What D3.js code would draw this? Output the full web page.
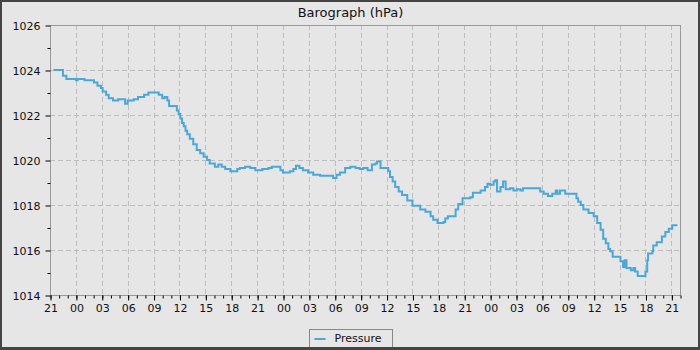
<!DOCTYPE html>
<html>
<head>
<meta charset="utf-8">
<script src="https://cdn.jsdelivr.net/npm/d3@7"></script>
<style>
  body { margin: 0; background: #fff; }
  text { font-family: "DejaVu Sans", sans-serif; fill: #111; }
</style>
</head>
<body>
<div class="chart"></div>
<script>
// hours since 21:00 on the first day, and the reading at that time (hPa)
const hours = [
  0.4, 1.5, 1.9, 3.0, 3.2, 4.0, 5.1, 5.5, 5.9, 6.1, 6.5, 6.8, 7.3, 7.9, 8.7, 9.0, 9.7, 10.2, 10.9, 11.4,
  12.6, 13.0, 13.3, 13.6, 13.8, 14.7, 14.9, 15.1, 15.3, 15.5, 15.7, 15.9, 16.2, 16.6, 17.0, 17.4, 17.8, 18.2, 18.5,
  19.1, 19.5, 19.9, 20.3, 20.9, 21.7, 22.0, 22.6, 23.2, 23.8, 24.6, 25.3, 25.7, 26.7, 27.0, 27.8, 28.2, 28.5, 28.9,
  29.3, 29.9, 30.5, 31.3, 32.8, 33.2, 33.6, 34.2, 34.8, 35.4, 35.9, 36.3,
  36.8, 37.3, 37.7, 37.9, 38.3, 39.2, 39.4, 39.7, 40.0, 40.4, 40.8, 41.4, 42.0, 42.9, 43.5, 44.1, 44.4, 44.9,
  45.6, 45.8, 46.1, 47.0, 47.3, 47.8, 48.7, 49.0, 49.9, 50.4, 50.7, 51.0, 51.4, 51.6, 51.8, 52.2, 52.5, 52.8,
  53.3, 53.7, 54.1, 54.5,
  54.8, 56.8, 57.2, 57.7, 58.2, 58.6, 58.8, 59.1, 59.7, 61.0, 61.2, 61.5, 61.8, 62.4, 63.0, 63.4, 63.8, 64.1,
  64.4, 64.7, 64.9, 65.2, 66.1, 66.4, 66.6, 66.8, 67.3, 67.6, 67.8, 68.1, 69.0, 69.2, 69.3, 69.8, 69.9, 70.3,
  70.9, 71.3, 71.7, 72.1, 72.7
];
const pressure = [
  1024.0, 1023.75, 1023.6, 1023.55, 1023.6, 1023.55, 1023.45, 1023.3, 1023.2, 1023.05, 1022.9, 1022.75, 1022.65, 1022.7, 1022.5, 1022.65, 1022.7, 1022.8, 1022.9, 1023.0,
  1022.9, 1022.75, 1022.8, 1022.65, 1022.4, 1022.2, 1022.05, 1021.85, 1021.65, 1021.5, 1021.3, 1021.15, 1020.95, 1020.7, 1020.45, 1020.3, 1020.15, 1020.0, 1019.85,
  1019.7, 1019.8, 1019.7, 1019.6, 1019.5, 1019.6, 1019.65, 1019.7, 1019.65, 1019.55, 1019.6, 1019.65, 1019.7, 1019.55, 1019.45, 1019.5, 1019.6, 1019.75, 1019.65,
  1019.55, 1019.45, 1019.35, 1019.3, 1019.2, 1019.35, 1019.45, 1019.65, 1019.7, 1019.65, 1019.6, 1019.65,
  1019.55, 1019.8, 1019.85, 1019.93, 1019.65, 1019.5, 1019.25, 1019.05, 1018.8, 1018.6, 1018.45, 1018.2, 1017.97, 1017.8, 1017.7, 1017.5, 1017.35, 1017.2,
  1017.25, 1017.4, 1017.5, 1017.8, 1018.05, 1018.3, 1018.35, 1018.55, 1018.65, 1018.8, 1018.95, 1018.9, 1019.05, 1019.1, 1018.6, 1018.8, 1019.05, 1018.7,
  1018.75, 1018.65, 1018.7, 1018.65,
  1018.75, 1018.6, 1018.5, 1018.4, 1018.5, 1018.65, 1018.5, 1018.65, 1018.5, 1018.3, 1018.15, 1018.0, 1017.8, 1017.65, 1017.5, 1017.2, 1016.9, 1016.5,
  1016.3, 1016.05, 1015.95, 1015.7, 1015.5, 1015.25, 1015.55, 1015.2, 1015.1, 1015.2, 1015.05, 1014.85, 1015.05, 1015.55, 1015.85, 1015.95, 1016.2, 1016.35,
  1016.6, 1016.8, 1016.95, 1017.1, 1017.1
];
const yMajor = [1014, 1016, 1018, 1020, 1022, 1024, 1026];
const yMinor = [1015, 1017, 1019, 1021, 1023, 1025];
const title = "Barograph (hPa)";
const seriesName = "Pressure";

const width = 700, height = 350;
const margin = {top: 25, right: 20, bottom: 55, left: 50};
const start = new Date(2024, 0, 1, 21, 0);
const end = d3.timeHour.offset(start, 73);

const svg = d3.select(".chart").append("svg")
  .attr("width", width)
  .attr("height", height);

// background + outer frame
svg.append("rect")
  .attr("x", 1).attr("y", 1)
  .attr("width", width - 2).attr("height", height - 2.5)
  .attr("fill", "#e6e6e6")
  .attr("stroke", "#444")
  .attr("stroke-width", 2);

const x = d3.scaleTime()
  .domain([start, end])
  .range([margin.left, width - margin.right]);
const y = d3.scaleLinear()
  .domain([1014, 1026])
  .range([height - margin.bottom, margin.top]);

const data = hours.map((h, i) => ({
  t: new Date(start.getTime() + h * 3600e3),
  p: pressure[i]
}));

const majorTimes = d3.timeHour.every(3).range(start, d3.timeHour.offset(end, 1));
const minorTimes = d3.timeHour.every(1).range(start, d3.timeHour.offset(end, 1));

// grid
const grid = svg.append("g")
  .attr("stroke", "#bdbdbd")
  .attr("stroke-dasharray", "5,3");
grid.selectAll(".vg")
  .data(majorTimes.filter(d => x(d) > margin.left + 1))
  .join("line")
  .attr("x1", d => Math.round(x(d)) + 0.5).attr("x2", d => Math.round(x(d)) + 0.5)
  .attr("y1", margin.top).attr("y2", height - margin.bottom);
grid.selectAll(".hg")
  .data(yMajor.slice(1, -1))
  .join("line")
  .attr("y1", d => Math.round(y(d)) + 0.5).attr("y2", d => Math.round(y(d)) + 0.5)
  .attr("x1", margin.left).attr("x2", width - margin.right);

// frame of the plot area
svg.append("rect")
  .attr("x", margin.left + 0.5).attr("y", margin.top + 0.5)
  .attr("width", width - margin.left - margin.right)
  .attr("height", height - margin.top - margin.bottom)
  .attr("fill", "none")
  .attr("stroke", "#999");

// x axis: hourly minor ticks, labelled every 3 hours
const xMinor = svg.append("g")
  .attr("transform", `translate(0.5,${height - margin.bottom + 0.5})`)
  .call(d3.axisBottom(x).tickValues(minorTimes).tickSize(3).tickFormat(""));
xMinor.select(".domain").remove();
xMinor.selectAll("line").attr("stroke", "#000");

const xAxis = svg.append("g")
  .attr("transform", `translate(0.5,${height - margin.bottom + 0.5})`)
  .call(d3.axisBottom(x).tickValues(majorTimes).tickSize(5).tickPadding(4)
    .tickFormat(d3.timeFormat("%H")));
xAxis.select(".domain").remove();
xAxis.selectAll("line").attr("stroke", "#000");
xAxis.selectAll("text").style("font-size", "11px").style("font-family", "DejaVu Sans").attr("fill", "#111");

// y axis
const yMin = svg.append("g")
  .attr("transform", `translate(${margin.left + 0.5},0.5)`)
  .call(d3.axisLeft(y).tickValues(yMinor).tickSize(3).tickFormat(""));
yMin.select(".domain").remove();
yMin.selectAll("line").attr("stroke", "#000");

const yAxis = svg.append("g")
  .attr("transform", `translate(${margin.left + 0.5},0.5)`)
  .call(d3.axisLeft(y).tickValues(yMajor).tickSize(5).tickPadding(5).tickFormat(d3.format("d")));
yAxis.select(".domain").remove();
yAxis.selectAll("line").attr("stroke", "#000");
yAxis.selectAll("text").style("font-size", "11px").style("font-family", "DejaVu Sans").attr("fill", "#111");

// the series, drawn as steps
const line = d3.line()
  .x(d => x(d.t))
  .y(d => y(d.p))
  .curve(d3.curveStepAfter);

svg.append("path")
  .datum(data)
  .attr("fill", "none")
  .attr("stroke", "#4aa8d8")
  .attr("stroke-width", 2)
  .attr("d", line);

// title
svg.append("text")
  .attr("x", width / 2 + 0.5)
  .attr("y", 17)
  .attr("text-anchor", "middle")
  .style("font-size", "13px")
  .text(title);

// legend
const legend = svg.append("g").attr("transform", "translate(309.5,329.5)");
legend.append("rect")
  .attr("width", 83).attr("height", 20)
  .attr("fill", "#e6e6e6")
  .attr("stroke", "#888");
legend.append("line")
  .attr("x1", 5).attr("x2", 16)
  .attr("y1", 9.5).attr("y2", 9.5)
  .attr("stroke", "#4aa8d8")
  .attr("stroke-width", 2);
legend.append("text")
  .attr("x", 25).attr("y", 12)
  .style("font-size", "11px")
  .text(seriesName);

// redraw bottom frame edge over the legend
svg.append("line")
  .attr("x1", 0).attr("x2", width)
  .attr("y1", height - 1.5).attr("y2", height - 1.5)
  .attr("stroke", "#444")
  .attr("stroke-width", 3);
</script>
</body>
</html>
